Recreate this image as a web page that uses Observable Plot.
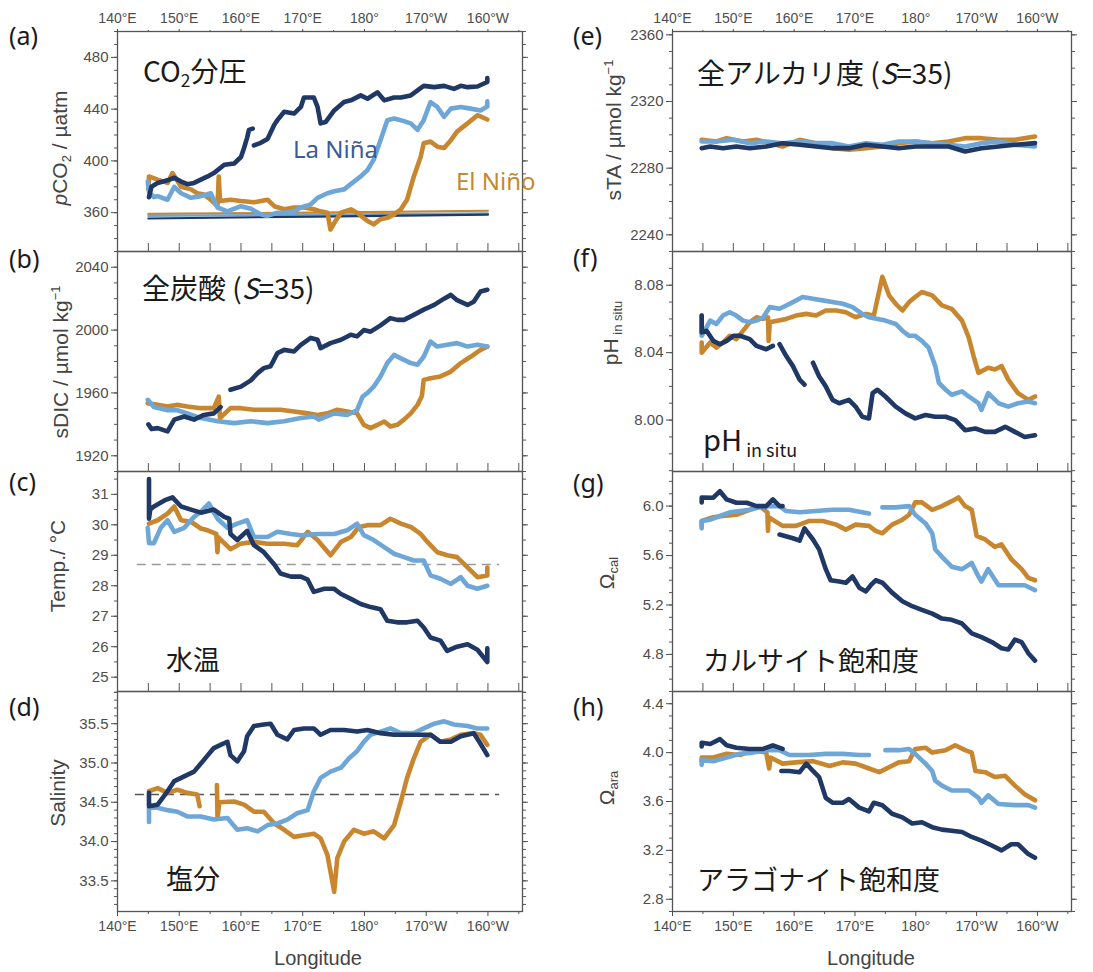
<!DOCTYPE html>
<html><head><meta charset="utf-8">
<script src="https://cdn.jsdelivr.net/npm/d3@7"></script>
<script src="https://cdn.jsdelivr.net/npm/@observablehq/plot@0.6"></script>
<style>
body{margin:0;background:#fff;}
#wrap{position:relative;width:1093px;height:972px;overflow:hidden;background:#fff;font-family:"Liberation Sans",Arial,sans-serif;}
.panel{position:absolute;}
.lbl{position:absolute;white-space:nowrap;line-height:1;transform:translateY(-50%);}
.let{font-family:"Noto Sans",sans-serif;font-size:25px;color:#1a1a1a;}
.jp{font-family:"Noto Sans CJK JP","Noto Sans",sans-serif;font-size:27px;color:#1a1a1a;}
.yt{position:absolute;white-space:nowrap;line-height:1;font-family:"Liberation Sans",Arial,sans-serif;font-size:21px;color:#444;transform:translate(-50%,-50%) rotate(-90deg);}
.xt{position:absolute;white-space:nowrap;line-height:1;font-family:"Liberation Sans",Arial,sans-serif;font-size:20px;color:#444;transform:translate(-50%,-50%);}
sub.s{font-size:0.62em;vertical-align:-0.3em;}
sup.s{font-size:0.62em;vertical-align:0.55em;}
</style></head>
<body><div id="wrap"></div>
<script>
// ---------- data: [longitude (°E, 0-360), value] ----------
const lonMajor = [140,150,160,170,180,190,200];
const lonMinor = [145,155,165,175,185,195,205];

// (a) pCO2 / µatm
const pco2Navy = [[145.1,372],[145.5,380],[146.5,383],[148.1,385],[149.2,387],[150.3,384],[151.3,382],[152.4,383],[153.5,385.5],[154.6,388],[155.6,390.6],[157.3,397],[158.9,398],[160.0,403],[160.5,410],[161.0,418],[161.3,424],[161.9,425],[162.0,null],[162.1,412],[163.2,414],[164.3,417],[165.4,428],[165.9,431.5],[167.0,438],[168.6,436.6],[169.7,441.7],[170.2,449],[171.8,449],[172.4,441.7],[172.9,429],[173.7,430],[175.1,439],[176.7,445.5],[177.8,446.8],[179.4,450.6],[180.5,448],[182.1,453],[183.2,446.8],[184.8,449],[185.9,449],[187.5,450.6],[188.6,454.5],[189.6,458],[191.3,457],[192.9,458],[194.5,455.7],[195.6,458],[196.7,457],[198.3,457.5],[199.9,461],[199.9,464]];
const pco2Sky = [[144.9,384],[145.1,376],[145.9,372],[146.5,372.8],[148.1,370],[149.2,380],[150.3,375],[151.9,371.5],[153.5,372.8],[155.1,375],[156.2,364],[157.8,361],[160.0,365],[161.6,363],[163.2,358.7],[164.3,357.5],[165.9,360],[167.0,360],[168.6,361],[169.7,364],[171.3,366.4],[172.4,371.5],[174.0,375],[175.1,376.6],[176.7,378],[178.3,384],[179.4,388],[180.5,393],[181.5,401],[182.6,416],[183.7,431.5],[184.8,432.8],[185.9,431.5],[187.5,429],[188.6,424],[189.6,431.5],[190.7,445.5],[191.8,441.7],[192.9,434],[194.0,440.4],[195.6,441.7],[197.2,440.4],[198.8,439],[199.9,442],[199.9,446]];
const pco2Orange = [[145.0,378],[145.1,388],[146.5,385.5],[148.1,383],[148.9,390.6],[150.3,380],[151.9,378],[152.9,375],[154.0,374],[155.1,370],[156.2,365],[156.4,388],[156.6,369],[158.3,370],[160.0,369],[162.1,368],[164.3,370],[165.4,365],[167.0,362.6],[168.6,364],[170.2,364],[171.8,362.6],[172.9,361],[174.0,360],[174.5,347],[175.1,352],[176.2,360],[177.8,362.6],[178.8,360],[180.5,353.6],[181.5,351],[182.6,355],[183.7,356],[184.8,358.7],[185.9,362.6],[186.9,370],[188.0,388],[189.1,403],[189.6,413.6],[190.7,415],[191.8,411],[192.9,410],[194.0,416],[195.0,422.6],[196.7,429],[198.3,435.3],[199.9,432]];
const pco2AtmNavy = [[145,355.5],[172,357],[200,358.5]];
const pco2AtmSky = [[145,357.5],[172,358.5],[200,359.5]];
const pco2AtmOrange = [[145,359],[172,360],[200,361.5]];

// (b) sDIC / µmol kg-1
const dicNavy = [[145.0,1940],[145.5,1937],[146.5,1937.6],[148.1,1935.5],[149.2,1943],[150.8,1945],[152.4,1943],[154.0,1946],[155.6,1947],[156.7,1951],[157.5,null],[158.3,1962],[160.0,1964],[161.6,1968],[162.7,1972.6],[163.7,1975.8],[164.8,1977],[165.9,1985.3],[167.0,1987.4],[168.6,1986.4],[169.7,1990.6],[171.3,1995],[172.4,1993.8],[172.9,1988.5],[174.5,1991.7],[176.2,1993.8],[177.8,1997],[178.8,1996],[179.9,2000],[181.0,1999],[182.6,2003],[184.2,2007.6],[185.3,2006.5],[186.4,2006.5],[188.0,2009.7],[189.6,2013],[191.3,2016],[192.9,2020],[194.0,2022.4],[195.0,2019],[196.7,2016],[197.7,2018],[198.8,2024.5],[199.9,2025.6]];
const dicSky = [[144.9,1955.6],[145.9,1951],[148.1,1949],[149.7,1949],[151.3,1947],[153.5,1944],[156.2,1942],[158.9,1940.8],[161.6,1942],[164.3,1940.8],[167.0,1942],[169.7,1944],[171.8,1945],[172.6,1943],[175.1,1947],[177.2,1946],[178.8,1949],[179.7,1957.7],[180.5,1960],[181.5,1964],[182.6,1970.5],[183.7,1979],[184.8,1984.2],[185.9,1982],[187.5,1979],[188.6,1978],[189.6,1983],[190.7,1992.7],[191.8,1989.5],[193.4,1990.6],[195.0,1991.7],[196.7,1989.5],[198.3,1990.6],[199.9,1989.5]];
const dicOrange = [[144.9,1953.5],[146.5,1952.4],[148.1,1951.4],[149.7,1952.4],[151.3,1951.4],[153.5,1950.3],[155.6,1950.3],[156.4,1957.7],[156.6,1944],[158.3,1950.3],[160.0,1950.3],[162.1,1949.3],[164.3,1949.3],[166.4,1949.3],[168.6,1948.2],[170.8,1947],[172.4,1946],[174.0,1947],[175.6,1949.3],[177.2,1948.2],[178.8,1947],[179.9,1939.7],[181.0,1937.6],[182.1,1939.7],[183.2,1941.8],[184.2,1938.7],[185.3,1939.7],[186.4,1943],[187.5,1947],[188.6,1952.4],[189.3,1958],[189.6,1968.3],[190.7,1969.4],[192.3,1970.5],[194.0,1973.6],[195.6,1979],[197.2,1983],[198.8,1987.4],[199.9,1989.5]];

// (c) Temp / °C
const tempNavy = [[145.1,31.5],[145.1,30.2],[145.3,30.5],[145.9,30.6],[147.6,30.8],[148.9,30.9],[150.3,30.6],[151.9,30.5],[153.5,30.4],[155.6,30.5],[157.3,30.26],[158.1,30.2],[158.3,29.7],[159.4,29.5],[161.0,29.8],[162.1,29.33],[163.7,29.1],[165.4,28.7],[166.4,28.4],[168.1,28.3],[169.7,28.3],[170.8,28.2],[171.8,27.8],[173.5,27.9],[175.1,27.9],[176.2,27.73],[177.8,27.57],[179.4,27.4],[181.0,27.3],[182.6,27.23],[183.7,26.85],[185.3,26.8],[186.9,26.8],[188.6,26.85],[189.6,26.63],[190.7,26.3],[192.3,26.2],[193.4,25.86],[195.0,26.0],[196.7,26.08],[198.3,25.9],[199.9,25.5],[199.9,25.95]];
const tempSky = [[144.9,29.9],[145.1,29.4],[145.9,29.4],[147.0,29.9],[148.1,30.15],[149.2,29.77],[150.8,29.9],[152.4,30.26],[153.5,30.43],[154.8,30.7],[156.2,30.2],[157.8,29.9],[159.4,30.04],[161.0,30.15],[162.1,29.6],[164.3,29.6],[165.9,29.77],[168.1,29.7],[169.7,29.66],[172.4,29.7],[175.1,29.7],[177.2,29.82],[178.8,30.04],[179.9,29.66],[181.5,29.5],[183.2,29.27],[184.8,29.05],[186.4,28.94],[188.0,28.83],[189.6,28.83],[190.7,28.34],[192.3,28.23],[194.0,28.06],[195.6,28.28],[196.7,28.0],[198.3,27.9],[199.9,28.0]];
const tempOrange = [[145.1,30.04],[146.5,30.15],[148.1,30.37],[149.2,30.6],[150.3,30.15],[151.9,30.1],[153.5,29.88],[154.6,29.82],[156.0,29.7],[156.2,29.1],[156.3,29.6],[158.3,29.2],[159.9,29.38],[162.1,29.44],[164.3,29.38],[167.0,29.38],[169.1,29.33],[170.8,29.77],[172.4,29.5],[174.5,29.0],[176.2,29.44],[177.8,29.6],[179.1,29.93],[180.5,29.99],[182.6,29.99],[184.2,30.2],[185.9,30.04],[187.5,29.93],[189.1,29.7],[190.2,29.44],[191.8,29.1],[193.4,29.0],[195.0,28.94],[196.7,28.6],[198.3,28.28],[199.9,28.34],[199.9,28.6]];
const tempRef = [{value:28.7, from:143.2, to:201.9}];

// (d) Salinity
const salNavy = [[145.1,34.62],[145.1,34.45],[146.5,34.47],[148.1,34.64],[149.2,34.77],[150.8,34.83],[152.4,34.89],[154.0,35.04],[155.6,35.19],[156.7,35.23],[157.8,35.27],[158.3,35.1],[159.4,35.02],[160.5,35.15],[161.0,35.34],[162.1,35.47],[163.7,35.49],[164.8,35.5],[165.9,35.36],[167.5,35.3],[168.6,35.42],[170.2,35.44],[171.8,35.44],[172.9,35.36],[174.5,35.42],[176.7,35.42],[178.8,35.4],[180.5,35.42],[182.6,35.38],[184.8,35.36],[186.9,35.36],[189.1,35.36],[190.7,35.36],[192.3,35.27],[194.0,35.27],[195.6,35.34],[197.7,35.38],[198.6,35.27],[199.9,35.1]];
const salSky = [[145.1,34.25],[145.1,34.43],[146.5,34.43],[148.1,34.4],[149.7,34.38],[151.3,34.32],[153.5,34.32],[155.6,34.28],[157.8,34.3],[159.4,34.15],[161.0,34.17],[162.7,34.13],[164.3,34.21],[165.9,34.23],[167.5,34.28],[169.1,34.36],[170.8,34.4],[171.8,34.64],[172.9,34.81],[174.5,34.89],[176.2,34.94],[177.5,35.06],[178.8,35.15],[179.9,35.27],[181.0,35.36],[182.6,35.4],[184.2,35.44],[185.9,35.38],[188.0,35.38],[189.6,35.44],[191.3,35.5],[192.9,35.53],[194.5,35.49],[196.7,35.47],[198.3,35.44],[199.9,35.44]];
const salOrange = [[145.1,34.64],[146.5,34.68],[148.1,34.62],[149.7,34.66],[151.3,34.62],[152.9,34.6],[153.3,34.45],[153.8,null],[156.1,34.72],[156.2,34.3],[156.5,34.5],[158.9,34.51],[160.5,34.47],[162.1,34.38],[163.7,34.38],[165.4,34.23],[167.0,34.15],[168.6,34.06],[170.2,34.08],[171.8,34.1],[172.9,34.04],[174.0,33.83],[174.8,33.49],[175.1,33.36],[175.6,33.79],[176.7,34.0],[178.3,34.15],[179.9,34.1],[181.5,34.13],[183.2,34.04],[184.8,34.21],[185.9,34.51],[186.9,34.81],[188.0,35.06],[189.1,35.27],[190.7,35.36],[192.3,35.27],[194.0,35.3],[195.6,35.36],[197.7,35.38],[198.8,35.36],[199.9,35.23]];
const salRef = [{value:34.6, from:142.9, to:201.9}];

// (e) sTA / µmol kg-1
const taNavy = [[144.8,2292],[146.2,2293],[148.3,2292],[150.5,2293],[152.7,2292],[155.4,2293],[158.1,2295],[160.9,2294],[163.6,2293],[166.3,2292],[169.0,2292],[171.8,2294],[174.5,2293],[177.2,2292],[179.9,2293],[182.7,2293],[185.4,2293],[188.1,2290],[190.8,2292],[193.6,2293],[196.3,2294],[199.6,2295]];
const taSky = [[144.8,2296],[147.2,2296],[150.0,2297],[152.7,2295],[155.4,2296],[158.1,2295],[160.9,2296],[163.6,2295],[166.3,2295],[169.0,2293],[171.8,2295],[174.5,2294],[177.2,2296],[179.9,2296],[182.7,2295],[185.4,2294],[188.1,2293],[190.8,2295],[193.6,2296],[196.3,2294],[199.6,2293]];
const taOrange = [[144.8,2297],[147.2,2296],[148.9,2298],[151.6,2296],[153.8,2297],[156.0,2295],[158.1,2293],[160.9,2297],[163.6,2295],[166.3,2292],[169.0,2291],[171.8,2292],[174.5,2293],[177.2,2295],[179.9,2296],[182.7,2295],[185.4,2296],[188.1,2298],[190.8,2298],[193.6,2297],[196.3,2297],[199.6,2299]];

// (f) pH in situ
const phNavy = [[144.8,8.062],[144.8,8.052],[145.6,8.053],[146.7,8.047],[147.8,8.045],[148.9,8.047],[150.0,8.050],[151.1,8.050],[152.7,8.048],[153.8,8.044],[155.4,8.042],[156.5,8.044],[157.0,null],[157.6,8.045],[158.7,8.038],[159.8,8.032],[160.9,8.024],[161.7,8.021],[162.3,null],[163.1,8.034],[164.1,8.026],[165.2,8.020],[166.3,8.012],[167.4,8.010],[169.0,8.012],[170.1,8.008],[171.2,8.002],[172.3,8.001],[172.9,8.016],[173.7,8.018],[175.0,8.014],[176.7,8.008],[178.3,8.004],[179.9,8.001],[181.6,8.003],[183.2,8.002],[184.9,8.002],[186.5,8.000],[188.1,7.994],[189.8,7.995],[191.4,7.993],[193.0,7.993],[194.7,7.996],[196.3,7.993],[197.9,7.990],[199.6,7.991]];
const phSky = [[144.8,8.062],[144.8,8.050],[146.2,8.059],[147.2,8.057],[148.3,8.062],[149.4,8.064],[150.5,8.062],[151.6,8.059],[152.7,8.058],[153.8,8.059],[154.9,8.061],[156.0,8.067],[157.6,8.066],[158.7,8.068],[159.8,8.070],[161.4,8.073],[163.1,8.072],[164.7,8.071],[166.3,8.070],[168.0,8.069],[169.6,8.067],[171.2,8.063],[172.3,8.061],[175.0,8.059],[176.7,8.057],[177.8,8.053],[178.9,8.050],[179.9,8.050],[181.0,8.047],[182.1,8.043],[183.2,8.032],[183.8,8.022],[184.9,8.018],[185.9,8.015],[187.6,8.017],[188.7,8.014],[190.3,8.010],[190.8,8.006],[191.9,8.016],[193.6,8.010],[195.2,8.008],[196.8,8.010],[198.5,8.011],[199.6,8.010]];
const phOrange = [[144.8,8.046],[144.8,8.040],[146.2,8.046],[147.2,8.043],[148.3,8.046],[149.4,8.050],[150.5,8.048],[152.7,8.058],[153.8,8.061],[154.9,8.060],[155.7,8.061],[155.8,8.047],[156.0,8.058],[158.7,8.060],[160.3,8.062],[162.0,8.063],[163.6,8.062],[165.2,8.065],[166.9,8.065],[168.5,8.064],[170.1,8.061],[171.8,8.063],[173.1,8.062],[174.5,8.085],[175.6,8.074],[176.7,8.069],[177.8,8.065],[178.9,8.070],[179.9,8.073],[181.0,8.076],[182.7,8.074],[184.3,8.068],[185.9,8.066],[187.6,8.059],[188.7,8.049],[189.5,8.038],[190.3,8.028],[191.9,8.031],[193.0,8.030],[194.1,8.032],[195.2,8.024],[196.8,8.016],[198.5,8.012],[199.6,8.014]];

// (g) Omega calcite
const calNavy = [[144.8,6.03],[144.8,6.07],[146.7,6.068],[147.8,6.12],[148.9,6.054],[150.5,6.027],[152.2,6.027],[153.8,6.0],[155.4,6.0],[156.5,6.054],[157.6,6.0],[158.1,6.0],[158.2,null],[157.6,5.77],[159.8,5.74],[160.9,5.72],[161.7,5.82],[163.1,5.73],[164.1,5.65],[165.2,5.49],[166.0,5.40],[167.4,5.39],[168.5,5.38],[169.6,5.43],[170.7,5.34],[171.8,5.31],[172.6,5.36],[173.4,5.40],[174.5,5.38],[176.1,5.30],[177.8,5.23],[179.4,5.19],[181.0,5.16],[182.7,5.13],[184.3,5.09],[185.9,5.08],[187.6,5.05],[189.2,4.97],[190.8,4.94],[192.5,4.90],[194.1,4.85],[195.2,4.84],[196.3,4.92],[197.4,4.90],[198.5,4.81],[199.6,4.75]];
const calSky = [[144.8,5.82],[144.8,5.88],[146.2,5.89],[147.8,5.92],[149.4,5.95],[151.1,5.96],[152.7,5.97],[154.3,5.99],[156.0,6.0],[157.6,6.0],[158.7,5.96],[160.9,5.95],[163.6,5.96],[166.3,5.97],[169.0,5.97],[171.2,5.95],[172.3,5.94],[172.8,null],[174.5,5.99],[176.7,5.99],[178.9,6.0],[179.9,5.93],[181.6,5.86],[182.7,5.78],[183.2,5.65],[184.3,5.59],[185.9,5.51],[187.6,5.49],[189.2,5.54],[190.3,5.43],[190.8,5.39],[191.9,5.49],[193.6,5.36],[196.3,5.36],[197.9,5.36],[199.6,5.32]];
const calOrange = [[144.8,5.84],[144.8,5.88],[146.7,5.91],[148.3,5.92],[150.5,5.93],[152.7,5.97],[154.3,6.0],[155.6,5.95],[155.7,5.80],[155.8,5.91],[158.1,5.84],[160.3,5.84],[162.5,5.88],[164.7,5.88],[166.9,5.85],[168.5,5.81],[170.1,5.85],[172.3,5.84],[173.4,5.80],[174.5,5.78],[176.1,5.85],[177.8,5.89],[178.9,5.93],[179.9,6.03],[181.0,6.03],[182.7,5.97],[184.3,6.0],[185.9,6.04],[187.0,6.07],[188.1,6.0],[189.2,5.97],[190.0,5.76],[191.4,5.73],[193.0,5.67],[194.1,5.69],[195.7,5.57],[197.4,5.49],[198.5,5.42],[199.6,5.40]];

// (h) Omega aragonite
const araNavy = [[144.8,4.05],[144.8,4.08],[146.2,4.07],[147.8,4.11],[148.9,4.06],[150.5,4.04],[152.7,4.03],[154.9,4.03],[156.5,4.06],[158.1,4.03],[158.2,null],[157.9,3.85],[159.2,3.85],[160.9,3.84],[162.0,3.91],[163.1,3.85],[164.1,3.80],[165.2,3.63],[166.3,3.59],[168.0,3.59],[169.0,3.62],[170.7,3.55],[172.3,3.52],[173.1,3.59],[174.5,3.57],[176.1,3.50],[177.8,3.47],[179.4,3.42],[181.0,3.43],[182.7,3.39],[184.3,3.37],[185.9,3.36],[187.6,3.35],[189.2,3.31],[190.8,3.28],[192.5,3.24],[194.1,3.20],[195.7,3.25],[196.8,3.25],[198.5,3.17],[199.6,3.14]];
const araSky = [[144.8,3.90],[144.8,3.94],[146.7,3.93],[148.9,3.96],[151.1,3.99],[153.2,4.0],[155.4,4.02],[157.6,4.02],[159.2,3.98],[162.5,3.98],[165.2,3.99],[168.0,3.99],[170.7,3.98],[172.3,3.98],[172.8,null],[175.0,4.02],[177.2,4.02],[178.9,4.03],[179.9,3.99],[181.6,3.91],[182.7,3.85],[183.2,3.77],[184.3,3.73],[185.9,3.69],[187.6,3.69],[188.7,3.69],[190.3,3.63],[190.8,3.59],[191.9,3.65],[193.6,3.58],[196.3,3.57],[198.5,3.57],[199.6,3.55]];
const araOrange = [[144.8,3.93],[144.8,3.96],[146.7,3.96],[148.9,3.99],[151.1,3.98],[153.2,4.02],[155.4,4.0],[155.9,3.87],[156.1,3.96],[158.1,3.91],[160.3,3.92],[163.1,3.93],[165.8,3.89],[168.0,3.92],[170.1,3.91],[172.3,3.87],[174.0,3.84],[175.6,3.88],[177.2,3.92],[178.9,3.93],[179.9,4.03],[181.6,4.04],[182.7,4.0],[184.9,4.02],[186.5,4.06],[188.1,4.02],[189.2,4.0],[189.8,3.85],[191.4,3.84],[193.0,3.80],[194.7,3.81],[196.3,3.73],[197.9,3.66],[199.6,3.61]];

// y tick values
const pco2Ticks = [360,400,440,480];
const dicTicks = [1920,1960,2000,2040];
const tempTicks = [25,26,27,28,29,30,31];
const salTicks = [33.5,34.0,34.5,35.0,35.5];
const taTicks = [2240,2280,2320,2360];
const phTicks = [8.00,8.04,8.08];
const calTicks = [4.8,5.2,5.6,6.0];
const araTicks = [2.8,3.2,3.6,4.0,4.4];

// ---------- drawing ----------
const COL = {navy:"#1f3865", sky:"#6ea7d7", orange:"#c8862f"};
const lonLabel = v => v < 180 ? v + "°E" : v === 180 ? "180°" : (360 - v) + "°W";
const colLeft = [0, 555], colWidth = [542, 536];
const rowTop = [31, 251, 471, 691];
const MT = 31, MB = 60, FH = 220;

const panels = [
  {col:0,row:0,domain:[330,500],major:pco2Ticks,minor:d3.range(330,501,10),fmt:d3.format("d"),
   extra:[[pco2AtmOrange,COL.orange],[pco2AtmSky,COL.sky],[pco2AtmNavy,COL.navy]],
   series:[pco2Orange,pco2Sky,pco2Navy]},
  {col:0,row:1,domain:[1910,2050],major:dicTicks,minor:d3.range(1910,2051,10),fmt:d3.format("d"),series:[dicOrange,dicSky,dicNavy]},
  {col:0,row:2,domain:[24.53,31.75],major:tempTicks,minor:d3.range(24.5,31.8,0.5),fmt:d3.format("d"),ref:tempRef,refColor:"#9a9a9a",series:[tempOrange,tempSky,tempNavy]},
  {col:0,row:3,domain:[33.11,35.91],major:salTicks,minor:d3.range(33.2,35.95,0.1),fmt:d3.format(".1f"),ref:salRef,refColor:"#555",series:[salOrange,salSky,salNavy]},
  {col:1,row:0,domain:[2230,2362],major:taTicks,minor:d3.range(2230,2361,10),fmt:d3.format("d"),series:[taOrange,taSky,taNavy]},
  {col:1,row:1,domain:[7.9695,8.1],major:phTicks,minor:d3.range(7.97,8.101,0.01),fmt:d3.format(".2f"),series:[phOrange,phSky,phNavy]},
  {col:1,row:2,domain:[4.5,6.28],major:calTicks,minor:d3.range(4.5,6.25,0.1),fmt:d3.format(".1f"),series:[calOrange,calSky,calNavy]},
  {col:1,row:3,domain:[2.7,4.5],major:araTicks,minor:d3.range(2.7,4.51,0.1),fmt:d3.format(".1f"),series:[araOrange,araSky,araNavy]}
];

const wrap = document.getElementById("wrap");
const seriesColors = [COL.orange, COL.sky, COL.navy];

for (const p of panels) {
  const marks = [];
  if (p.extra) for (const [d, c] of p.extra) marks.push(Plot.line(d, {x: d => d[0], y: d => d[1], stroke: c, strokeWidth: 2.2}));
  if (p.ref) marks.push(Plot.ruleY(p.ref, {y: "value", x1: "from", x2: "to", stroke: p.refColor, strokeWidth: 1.6, strokeDasharray: "9,6"}));
  p.series.forEach((s, i) => marks.push(Plot.line(s, {x: d => d[0], y: d => d[1], stroke: seriesColors[i], strokeWidth: 4.6, strokeLinejoin: "round", strokeLinecap: "round"})));
  marks.push(Plot.frame({stroke: "#555", strokeWidth: 1.3}));
  // y axes
  marks.push(Plot.axisY({anchor: "left", ticks: p.major, tickSize: 6, tickPadding: 3, tickFormat: p.fmt, fontSize: 15, color: "#4d4d4d", label: null}));
  marks.push(Plot.axisY({anchor: "left", ticks: p.minor, tickSize: 3, fill: "none", stroke: "#555", label: null}));
  marks.push(Plot.axisY({anchor: "right", ticks: p.minor, tickSize: 3, fill: "none", stroke: "#555", label: null}));
  marks.push(Plot.axisY({anchor: "right", ticks: p.major, tickSize: 5, fill: "none", stroke: "#555", label: null}));
  // x axes
  if (p.row === 0) {
    marks.push(Plot.axisX({anchor: "top", ticks: lonMajor, tickSize: 3, tickPadding: 6, tickFormat: lonLabel, fontSize: 14, color: "#4d4d4d", label: null}));
    marks.push(Plot.axisX({anchor: "top", ticks: lonMinor, tickSize: 2, fill: "none", stroke: "#555", label: null}));
  } else {
    marks.push(Plot.axisX({anchor: "top", ticks: lonMajor.concat(lonMinor), tickSize: 9, fill: "none", stroke: "#555", label: null}));
  }
  if (p.row === 3) {
    marks.push(Plot.axisX({anchor: "bottom", ticks: lonMajor, tickSize: 5, tickPadding: 5, tickFormat: lonLabel, fontSize: 14, color: "#4d4d4d", label: null}));
    marks.push(Plot.axisX({anchor: "bottom", ticks: lonMinor, tickSize: 3, fill: "none", stroke: "#555", label: null}));
  }
  const w = colWidth[p.col];
  const chart = Plot.plot({
    width: w, height: MT + FH + MB,
    marginLeft: 117, marginRight: 20, marginTop: MT, marginBottom: MB,
    x: {domain: [140, 205.6]},
    y: {domain: p.domain},
    style: {background: "transparent", overflow: "visible", fontFamily: "'Liberation Sans', Arial, sans-serif"},
    marks
  });
  const div = document.createElement("div");
  div.className = "panel";
  div.style.left = colLeft[p.col] + "px";
  div.style.top = (rowTop[p.row] - MT) + "px";
  div.style.width = w + "px";
  div.appendChild(chart);
  wrap.appendChild(div);
}

// ---------- text overlays ----------
function addLabel(cls, html, left, cy, extraStyle) {
  const d = document.createElement("div");
  d.className = "lbl " + cls;
  d.innerHTML = html;
  d.style.left = left + "px";
  d.style.top = cy + "px";
  if (extraStyle) Object.assign(d.style, extraStyle);
  wrap.appendChild(d);
}
function addRot(html, cx, cy) {
  const d = document.createElement("div");
  d.className = "yt";
  d.innerHTML = html;
  d.style.left = cx + "px";
  d.style.top = cy + "px";
  wrap.appendChild(d);
}
function addX(html, cx, cy) {
  const d = document.createElement("div");
  d.className = "xt";
  d.innerHTML = html;
  d.style.left = cx + "px";
  d.style.top = cy + "px";
  wrap.appendChild(d);
}

// panel letters
[["(a)",9,35],["(b)",9,258],["(c)",9,481],["(d)",9,706],["(e)",573,35],["(f)",573,257],["(g)",573,482],["(h)",573,706]]
  .forEach(([t,x,y]) => addLabel("let", t, x, y));

// panel titles
addLabel("jp", 'CO<sub class="s">2</sub>分圧', 143, 72, {fontSize: "28px"});
addLabel("jp", '全炭酸 (<i>S</i>=35)', 142, 287, {fontSize: "28px"});
addLabel("jp", '水温', 166, 658);
addLabel("jp", '塩分', 166, 877);
addLabel("jp", '全アルカリ度 (<i>S</i>=35)', 697, 72, {fontSize: "28px"});
addLabel("jp", 'pH<span style="font-size:18px;vertical-align:-0.35em;"> in situ</span>', 703, 441, {fontSize: "29px"});
addLabel("jp", 'カルサイト飽和度', 703, 659);
addLabel("jp", 'アラゴナイト飽和度', 697, 878);

// series names
addLabel("", 'La Niña', 293, 149, {fontFamily: "'Noto Sans', sans-serif", fontSize: "24px", color: "#3b5b9b"});
addLabel("", 'El Niño', 456, 181, {fontFamily: "'Noto Sans', sans-serif", fontSize: "24px", color: "#c2892f"});

// y titles
addRot('<i>p</i>CO<sub class="s">2</sub> / µatm', 61, 148);
addRot('sDIC / µmol kg<sup class="s">−1</sup>', 60, 362);
addRot('Temp./ °C', 57, 566);
addRot('Salinity', 57, 793);
addRot('sTA / µmol kg<sup class="s">−1</sup>', 613, 130);
addRot('pH<sub class="s"> in situ</sub>', 612, 333);
addRot('Ω<sub class="s">cal</sub>', 608, 573);
addRot('Ω<sub class="s">ara</sub>', 608, 788);

// x titles
addX('Longitude', 318, 958);
addX('Longitude', 871, 958);
</script>
</body></html>
